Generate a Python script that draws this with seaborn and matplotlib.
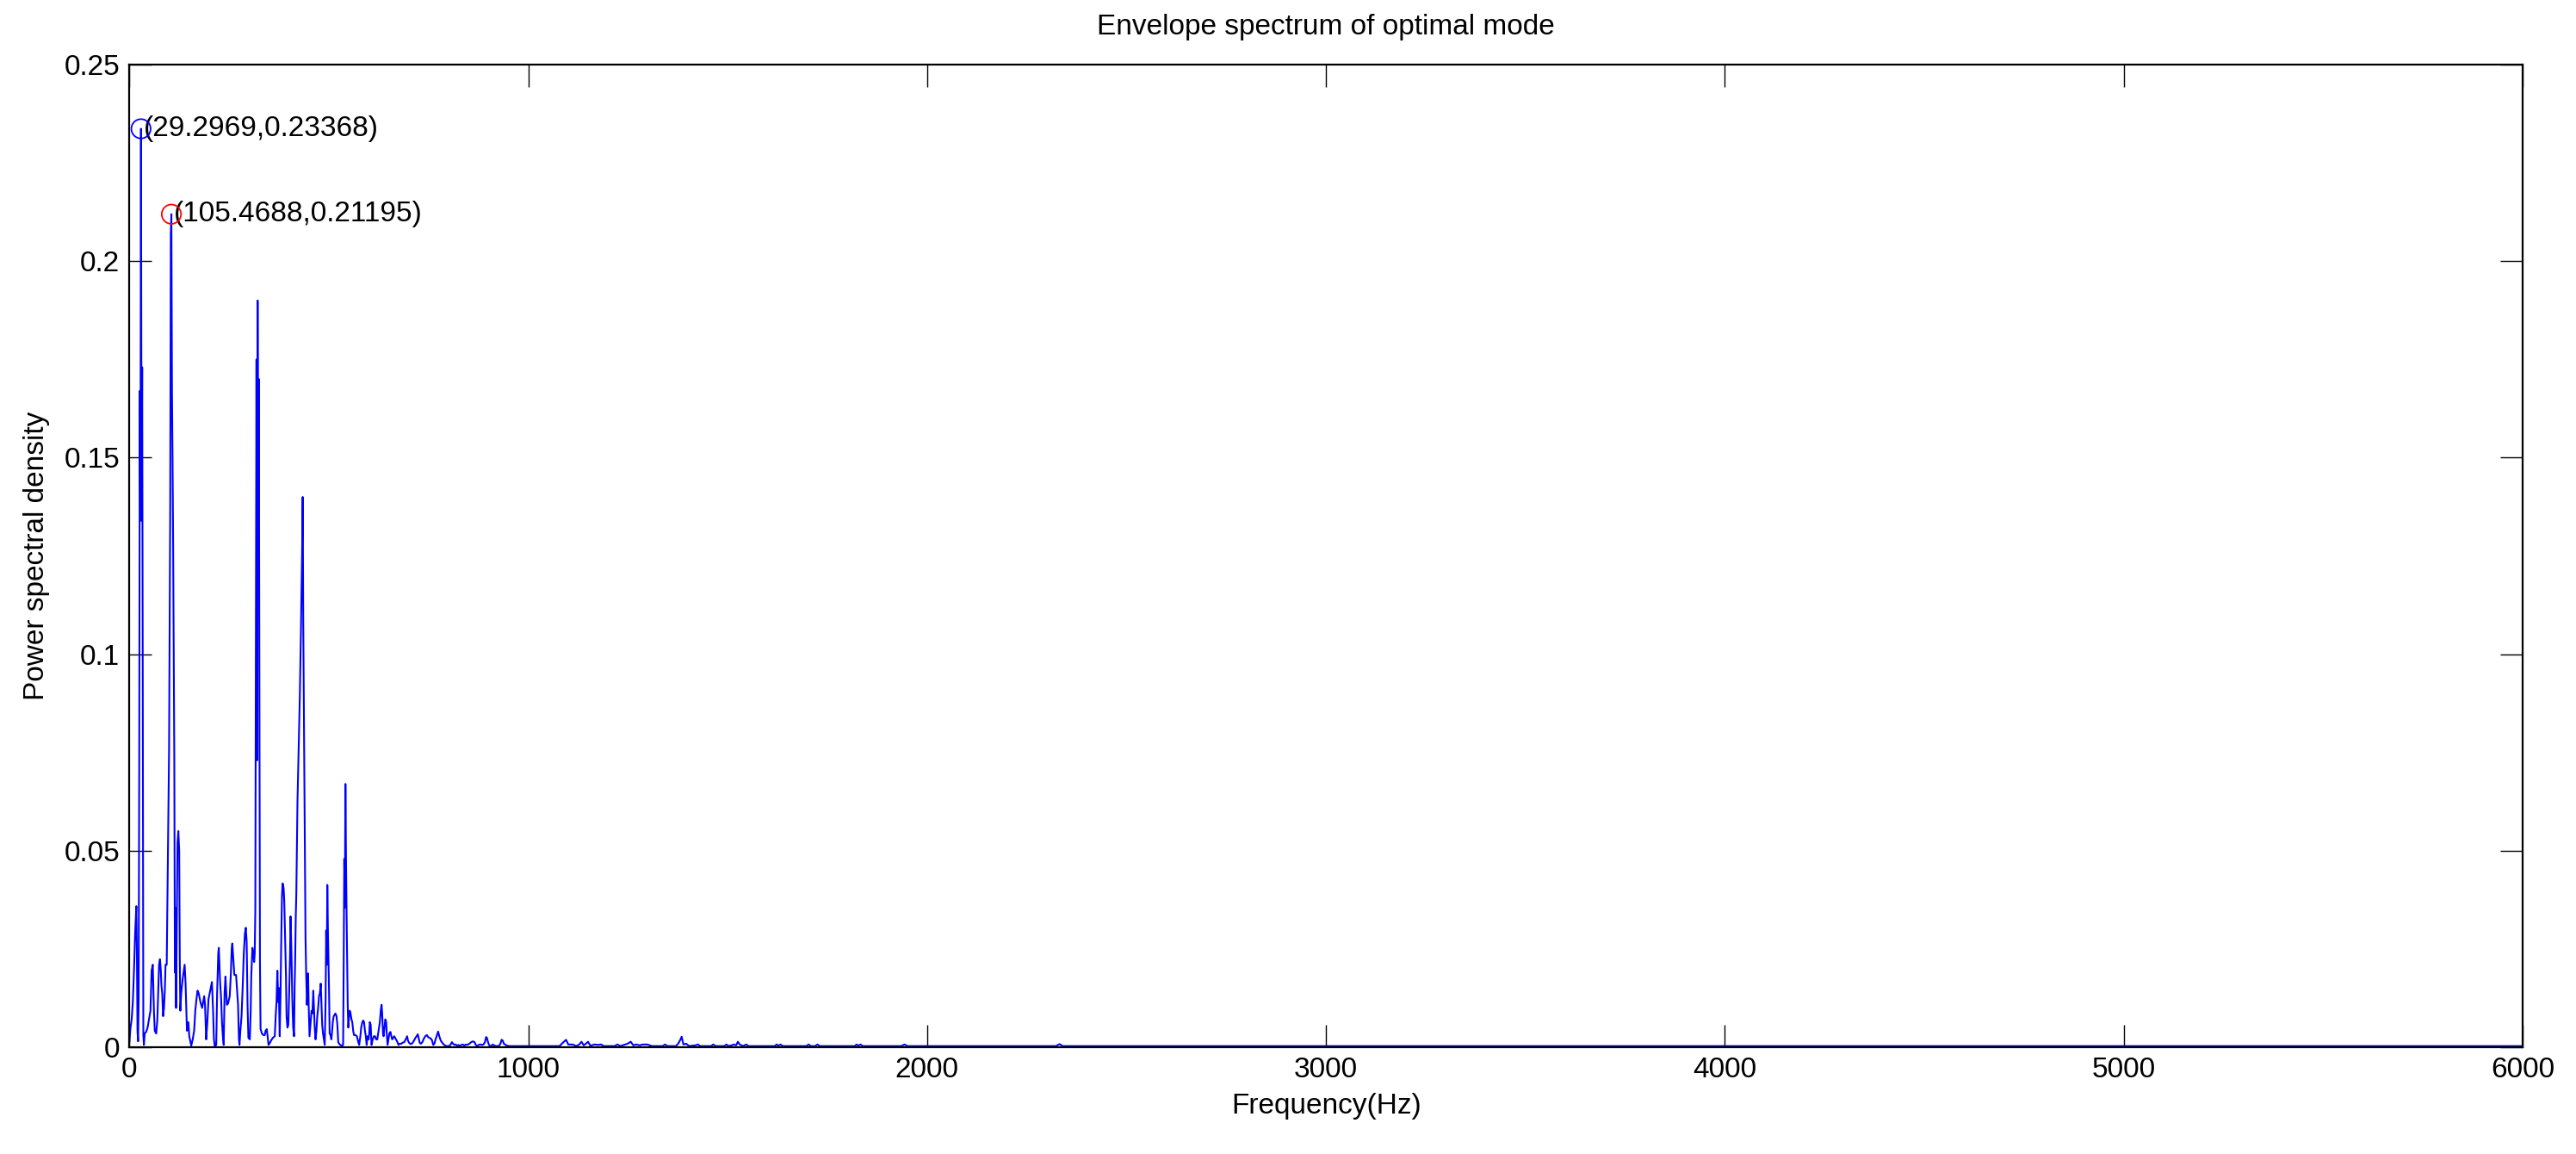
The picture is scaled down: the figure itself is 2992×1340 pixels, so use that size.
import matplotlib
matplotlib.use('Agg')
import matplotlib.pyplot as plt
import seaborn as sns

# Envelope spectrum (Hz, PSD)
freq = [
    0.0, 2.9, 5.9, 8.8, 11.7, 14.6, 17.6, 19.0, 20.5, 21.97, 23.44, 24.90, 26.37, 27.83,
    29.2969, 30.76, 32.23, 33.69, 35.16, 36.6, 38.6, 42.2, 45.8, 49.4, 53.0, 55.9, 58.8,
    60.2, 61.7, 63.8, 67.4, 70.3, 72.5, 74.6, 76.8, 79.0, 80.4, 82.5, 84.7, 86.9, 89.0,
    90.8, 92.3, 93.75, 95.21, 96.68, 98.14, 99.61, 101.07, 102.54, 104.00,
    105.4688, 106.93, 108.40, 109.86, 111.33, 112.79, 114.26, 115.72, 117.19, 120.8,
    122.9, 125.1, 126.5, 127.9, 130.1, 133.7, 138.7, 140.9, 143.1, 144.5, 148.1, 150.3,
    155.3, 158.9, 162.5, 165.4, 168.3, 171.1, 174.0, 178.3, 182.6, 187.7, 189.8, 192.7,
    195.6, 198.5, 202.8, 207.1, 210.0, 212.1, 214.3, 217.9, 220.1, 223.0, 224.4, 227.3,
    230.2, 232.3, 234.5, 236.6, 238.8, 241.0, 242.4, 244.6, 247.4, 251.7, 254.6, 256.8,
    258.2, 261.1, 263.3, 267.6, 269.7, 272.6, 274.8, 276.2, 278.4, 281.3, 284.1, 287.0,
    289.9, 292.0, 294.2, 296.4, 298.5, 302.1, 304.3, 305.7, 308.6, 310.8, 312.9, 314.4,
    315.9, 317.3, 318.8, 320.2, 321.7, 323.2, 324.6, 326.1, 327.5, 329.0, 330.4, 332.3,
    335.9, 339.5, 341.7, 344.6, 346.7, 348.9, 351.8, 355.4, 359.7, 364.7, 366.9, 369.0,
    371.2, 373.4, 374.8, 377.0, 379.1, 380.6, 382.7, 384.2, 385.6, 387.0, 388.5, 390.6,
    392.8, 394.2, 396.4, 398.6, 400.7, 402.9, 404.3, 406.5, 408.6, 410.8, 413.0, 414.4,
    415.8, 417.3, 418.7, 420.1, 421.6, 423.0, 424.5, 425.9, 427.4, 428.8, 430.3, 431.8,
    433.2, 434.7, 436.1, 437.6, 439.0, 441.7, 443.2, 445.3, 446.8, 448.2, 449.6, 451.8,
    454.0, 456.8, 459.0, 461.2, 462.6, 464.8, 466.9, 469.1, 471.2, 473.4, 475.6, 477.7,
    479.9, 481.3, 483.5, 485.6, 487.8, 489.9, 492.1, 493.5, 495.0, 496.4, 497.9, 499.3,
    500.7, 502.2, 504.3, 506.5, 507.9, 510.1, 512.3, 514.4, 516.6, 519.4, 521.6, 523.8,
    525.9, 528.8, 533.8, 536.0, 537.4, 538.9, 540.3, 541.8, 543.2, 544.6, 546.1, 547.5,
    549.0, 550.4, 552.6, 554.7, 556.9, 559.0, 561.2, 563.3, 566.9, 570.5, 574.1, 576.3,
    579.2, 581.3, 584.2, 586.4, 588.5, 590.7, 592.9, 595.0, 597.2, 600.0, 601.5, 602.9,
    605.1, 607.2, 610.1, 613.0, 615.9, 618.8, 621.6, 623.8, 626.0, 628.1, 630.3, 632.4,
    633.9, 636.0, 637.5, 639.6, 641.8, 643.9, 645.4, 647.5, 649.7, 651.9, 654.7, 656.9,
    659.1, 661.2, 664.1, 666.3, 668.4, 671.3, 674.9, 677.8, 682.1, 685.7, 689.3, 692.9,
    696.5, 698.6, 701.5, 705.8, 710.1, 713.7, 717.3, 720.2, 723.1, 725.3, 728.1, 731.0,
    734.6, 737.5, 741.8, 746.1, 749.0, 751.9, 756.2, 759.1, 762.0, 764.8, 767.7, 771.3,
    774.2, 777.1, 780.7, 785.0, 789.3, 794.3, 801.5, 805.1, 808.7, 811.6, 815.2, 818.1,
    821.7, 825.3, 828.9, 832.5, 836.1, 839.7, 843.3, 846.9, 852.6, 857.0, 861.3, 865.6,
    868.5, 872.1, 875.7, 880.0, 884.3, 887.9, 891.5, 894.4, 896.5, 898.7, 901.6, 904.5,
    908.0, 911.6, 915.2, 920.3, 926.0, 930.4, 933.2, 936.1, 939.0, 943.3, 947.6, 952.7,
    1078.5, 1087.3, 1095.0, 1100.5, 1111.5, 1120.3, 1128.1, 1133.6, 1139.1, 1144.6,
    1150.1, 1155.6, 1166.6, 1175.4, 1183.2, 1188.7, 1216.2, 1223.9, 1230.5, 1249.2,
    1256.9, 1263.5, 1271.3, 1279.0, 1287.8, 1298.8, 1309.8, 1337.3, 1342.8, 1349.5,
    1370.4, 1375.9, 1381.4, 1384.7, 1389.1, 1395.7, 1403.4, 1420.0, 1425.5, 1431.0,
    1458.5, 1464.0, 1469.5, 1491.5, 1497.1, 1502.6, 1510.3, 1515.8, 1521.3, 1525.7,
    1530.1, 1538.9, 1546.6, 1552.1, 1618.2, 1622.6, 1627.0, 1632.5, 1638.0, 1697.5,
    1703.0, 1708.5, 1719.6, 1725.1, 1730.6, 1818.7, 1823.1, 1827.5, 1833.0, 1838.5,
    1935.5, 1943.2, 1950.9, 2323.2, 2332.0, 2339.7, 6000.0,
]
psd = [
    0.0012, 0.0049, 0.0071, 0.0115, 0.0195, 0.029, 0.0359, 0.0246, 0.0042, 0.0015, 0.012,
    0.074, 0.167, 0.134, 0.23368, 0.134, 0.173, 0.095, 0.003, 0.0006, 0.0035, 0.0039,
    0.005, 0.0071, 0.0093, 0.0195, 0.021, 0.015, 0.0093, 0.0042, 0.0035, 0.0071, 0.0144,
    0.021, 0.0224, 0.0195, 0.0159, 0.0137, 0.0079, 0.01, 0.0144, 0.021, 0.021, 0.021,
    0.034, 0.048, 0.062, 0.075, 0.106, 0.137, 0.207, 0.21195, 0.167, 0.149, 0.128, 0.100,
    0.073, 0.019, 0.0355, 0.010, 0.052, 0.055, 0.05, 0.0224, 0.0093, 0.0137, 0.0173,
    0.021, 0.0166, 0.0093, 0.0042, 0.0064, 0.0028, 0.0004, 0.002, 0.0042, 0.0093, 0.0122,
    0.0144, 0.0137, 0.0115, 0.01, 0.013, 0.0108, 0.002, 0.0064, 0.0122, 0.0144, 0.0166,
    0.0093, 0.002, 0.0002, 0.0006, 0.0137, 0.0239, 0.0253, 0.0173, 0.0122, 0.0064, 0.0028,
    0.0006, 0.0137, 0.018, 0.0151, 0.0108, 0.0111, 0.013, 0.0188, 0.0253, 0.0264, 0.0217,
    0.0184, 0.0184, 0.0151, 0.0108, 0.002, 0.0006, 0.0042, 0.0079, 0.0151, 0.0239, 0.029,
    0.0304, 0.0268, 0.0108, 0.0024, 0.002, 0.0093, 0.018, 0.0253, 0.0239, 0.0217, 0.0239,
    0.035, 0.108, 0.175, 0.073, 0.19, 0.1325, 0.17, 0.0956, 0.0217, 0.0046, 0.0042,
    0.0035, 0.0031, 0.0031, 0.0042, 0.0046, 0.0028, 0.0006, 0.001, 0.0017, 0.0024, 0.0028,
    0.0079, 0.0115, 0.0195, 0.0115, 0.0151, 0.0028, 0.0137, 0.0253, 0.0384, 0.0417,
    0.0413, 0.0402, 0.037, 0.0282, 0.018, 0.0079, 0.005, 0.0057, 0.0137, 0.0231, 0.0333,
    0.0239, 0.0122, 0.005, 0.0028, 0.0151, 0.0224, 0.0333, 0.0392, 0.0508, 0.0627, 0.069,
    0.076, 0.082, 0.089, 0.097, 0.1065, 0.116, 0.126, 0.14, 0.1076, 0.0867, 0.066, 0.028,
    0.0195, 0.0108, 0.0137, 0.0188, 0.0108, 0.0028, 0.0057, 0.0093, 0.0086, 0.0144,
    0.0108, 0.005, 0.002, 0.0042, 0.0079, 0.01, 0.013, 0.0137, 0.0162, 0.0122, 0.0057,
    0.0035, 0.002, 0.0006, 0.0122, 0.0297, 0.021, 0.0413, 0.0297, 0.0217, 0.0144, 0.0035,
    0.0031, 0.002, 0.0035, 0.0064, 0.0079, 0.0082, 0.0086, 0.0079, 0.0057, 0.0013, 0.0009,
    0.0006, 0.0004, 0.0006, 0.021, 0.0479, 0.0355, 0.067, 0.0479, 0.0348, 0.0231, 0.0108,
    0.005, 0.0071, 0.0093, 0.0086, 0.0071, 0.0064, 0.0042, 0.0031, 0.0031, 0.0028, 0.0013,
    0.0006, 0.0028, 0.005, 0.0064, 0.0068, 0.0064, 0.0042, 0.0028, 0.0006, 0.0028, 0.002,
    0.0035, 0.0064, 0.0057, 0.0006, 0.002, 0.0028, 0.0028, 0.002, 0.002, 0.0035, 0.005,
    0.0064, 0.0093, 0.0108, 0.0086, 0.0035, 0.0028, 0.005, 0.0071, 0.0064, 0.0035, 0.0006,
    0.002, 0.0035, 0.0039, 0.0028, 0.002, 0.0024, 0.0028, 0.0024, 0.002, 0.0015, 0.0006,
    0.0009, 0.0009, 0.0012, 0.0013, 0.002, 0.0028, 0.0017, 0.0011, 0.0008, 0.0011, 0.0017,
    0.0024, 0.0028, 0.0033, 0.0024, 0.0011, 0.0009, 0.0013, 0.002, 0.0028, 0.0031, 0.0026,
    0.0024, 0.0022, 0.0017, 0.0006, 0.0009, 0.002, 0.0031, 0.004, 0.0028, 0.0017, 0.0011,
    0.0006, 0.0003, 0.0003, 0.0006, 0.0013, 0.0009, 0.0006, 0.0007, 0.0004, 0.0006, 0.0003,
    0.0006, 0.0007, 0.0004, 0.0007, 0.0006, 0.0009, 0.0013, 0.0015, 0.0013, 0.0006, 0.0003,
    0.0006, 0.0007, 0.0006, 0.0007, 0.0013, 0.0026, 0.0024, 0.0015, 0.0006, 0.0003, 0.0004,
    0.0007, 0.0004, 0.0003, 0.0003, 0.0009, 0.0019, 0.0017, 0.0009, 0.0006, 0.0004, 0.0003,
    0.0003, 0.0012, 0.0019, 0.0007, 0.0007, 0.0003, 0.0007, 0.0014, 0.0005, 0.0009, 0.0014,
    0.0004, 0.0007, 0.0006, 0.0007, 0.0003, 0.0003, 0.0007, 0.0003, 0.0009, 0.0014, 0.0005,
    0.0007, 0.0005, 0.0007, 0.0007, 0.0003, 0.0003, 0.0007, 0.0003, 0.0003, 0.0009, 0.0019,
    0.0027, 0.0007, 0.0009, 0.0003, 0.0005, 0.0007, 0.0003, 0.0003, 0.0007, 0.0003, 0.0003,
    0.0007, 0.0003, 0.0005, 0.0007, 0.0005, 0.0014, 0.0007, 0.0003, 0.0007, 0.0003, 0.0003,
    0.0007, 0.0004, 0.0007, 0.0003, 0.0003, 0.0007, 0.0003, 0.0003, 0.0007, 0.0003, 0.0003,
    0.0007, 0.0004, 0.0007, 0.0003, 0.0003, 0.0007, 0.0003, 0.0003, 0.0008, 0.0003, 0.0003,
]

# Marked peaks
peak_freq = [29.2969, 105.4688]
peak_psd = [0.23368, 0.21195]
peak_colors = ['blue', 'red']

x_ticks = [0, 1000, 2000, 3000, 4000, 5000, 6000]
y_ticks = [0, 0.05, 0.1, 0.15, 0.2, 0.25]
y_tick_labels = ['0', '0.05', '0.1', '0.15', '0.2', '0.25']

sns.set_theme(style='white')
plt.rcParams['font.family'] = ['Liberation Sans', 'DejaVu Sans']
plt.rcParams['text.color'] = 'black'
plt.rcParams['axes.labelcolor'] = 'black'

fig = plt.figure(figsize=(29.92, 13.4), dpi=100)
fig.patch.set_facecolor('white')
ax = fig.add_axes([0.0502, 0.0925, 0.9291, 0.8515])

sns.lineplot(x=freq, y=psd, ax=ax, color='blue', linewidth=1.5,
             estimator=None, sort=False)

for f, v, c in zip(peak_freq, peak_psd, peak_colors):
    sns.scatterplot(x=[f], y=[v], ax=ax, marker='o', s=260, color=c,
                    facecolor='none', edgecolor=c, linewidth=1.3, zorder=5)
    ax.annotate('(' + str(f) + ',' + str(v) + ')', xy=(f, v), xytext=(2, 0),
                textcoords='offset points', ha='left', va='center',
                fontsize=24, color='black')

ax.set_xlim(0, 6000)
ax.set_ylim(0, 0.25)
ax.set_xticks(x_ticks)
ax.set_xticklabels([str(t) for t in x_ticks])
ax.set_yticks(y_ticks)
ax.set_yticklabels(y_tick_labels)

ax.tick_params(direction='in', length=19, width=1.0, colors='black',
               bottom=True, left=True, top=True, right=True,
               labelsize=24, pad=8)
for side in ['top', 'bottom', 'left', 'right']:
    ax.spines[side].set_visible(True)
    ax.spines[side].set_color('black')
    ax.spines[side].set_linewidth(1.6)

ax.set_title('Envelope spectrum of optimal mode', fontsize=24, pad=25, color='black')
ax.set_xlabel('Frequency(Hz)', fontsize=24, labelpad=8)
ax.set_ylabel('Power spectral density', fontsize=24, labelpad=12)

fig.savefig('out.png', dpi=100, facecolor='white')
